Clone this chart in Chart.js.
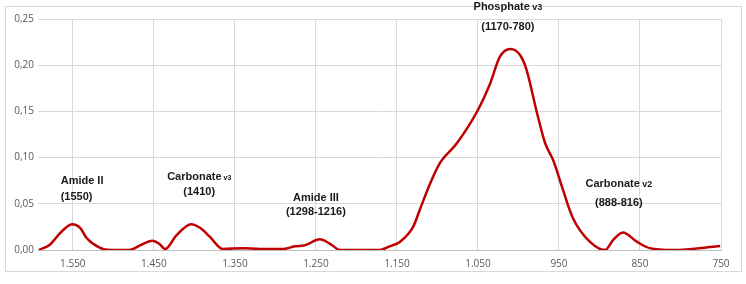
<!DOCTYPE html>
<html lang="en">
<head>
  <meta charset="UTF-8" />
  <title>FTIR spectrum</title>
  <script src="https://cdn.jsdelivr.net/npm/chart.js"></script>
  <style>
    html, body { margin: 0; padding: 0; background: #fff; }
    #wrap { width: 746px; height: 284px; }
  </style>
</head>
<body>
  <div id="wrap"><canvas id="spectrum" width="746" height="284"></canvas></div>

  <script>
    // wavenumber (cm-1) and absorbance
    const wavenumbers = [1592, 1578, 1566, 1551, 1541, 1533, 1517, 1504, 1480, 1467, 1452, 1443, 1436,
      1422, 1404, 1393, 1381, 1365, 1340, 1319, 1291, 1276, 1264, 1245, 1233, 1220, 1171, 1159, 1146,
      1130, 1122, 1109, 1097, 1076, 1050, 1035, 1023, 1010, 998, 990, 977, 967, 957, 945, 933, 912,
      893, 883, 871, 854, 838, 809, 751];
    const absorbance = [0.000, 0.006, 0.018, 0.028, 0.024, 0.013, 0.0025, 0.000, 0.000, 0.005, 0.010, 0.0065, 0.001,
      0.016, 0.028, 0.024, 0.0144, 0.001, 0.002, 0.001, 0.001, 0.004, 0.005, 0.0115, 0.007, 0.000, 0.000, 0.004, 0.009,
      0.025, 0.043, 0.072, 0.094, 0.1155, 0.1515, 0.180, 0.209, 0.2175, 0.211, 0.195, 0.148, 0.1155, 0.097, 0.065, 0.035, 0.009,
      0.000, 0.011, 0.019, 0.009, 0.002, 0.000, 0.0043];
    const xTicks = [1550, 1450, 1350, 1250, 1150, 1050, 950, 850, 750];
    const yTicks = [0, 0.05, 0.10, 0.15, 0.20, 0.25];

    // band labels: [main text, small suffix, second line]
    const bandNames = ['Amide II', 'Carbonate', 'Amide III', 'Phosphate', 'Carbonate'];
    const bandSuffix = ['', 'v3', '', 'v3', 'v2'];
    const bandRanges = ['(1550)', '(1410)', '(1298-1216)', '(1170-780)', '(888-816)'];

    // where each label sits, in data units
    const labelPos = [
      { x: 1565, y1: 0.075, y2: 0.057, align: 'left', small: 9 },
      { x: 1394, y1: 0.079, y2: 0.063, align: 'center', small: 7 },
      { x: 1250, y1: 0.056, y2: 0.041, align: 'center', small: 9 },
      { x: 1013, y1: 0.263, y2: 0.241, align: 'center', small: 9 },
      { x: 876, y1: 0.072, y2: 0.0505, align: 'center', small: 9 }
    ];

    const fmtThousands = v => {
      const s = String(Math.round(v));
      return s.length > 3 ? s.slice(0, s.length - 3) + '.' + s.slice(-3) : s;
    };

    const frame = {
      id: 'frame',
      beforeDraw(chart) {
        const c = chart.ctx;
        c.save();
        c.fillStyle = '#fff';
        c.fillRect(0, 0, chart.width, chart.height);
        c.strokeStyle = '#d9d9d9';
        c.lineWidth = 1;
        c.strokeRect(5.5, 6.5, 736, 265);
        c.restore();
      }
    };

    const bandLabels = {
      id: 'bandLabels',
      afterDatasetsDraw(chart) {
        const c = chart.ctx;
        const xs = chart.scales.x, ys = chart.scales.y;
        c.save();
        c.fillStyle = '#1a1a1a';
        c.textBaseline = 'middle';
        labelPos.forEach((p, i) => {
          const px = xs.getPixelForValue(p.x);
          const main = bandNames[i];
          const suf = bandSuffix[i];
          c.font = 'bold 11px "Liberation Sans"';
          const wMain = c.measureText(main).width;
          c.font = 'bold ' + p.small + 'px "Liberation Sans"';
          const wSuf = suf ? c.measureText(' ' + suf).width : 0;
          const total = wMain + wSuf;
          let left = p.align === 'left' ? px : px - total / 2;
          const py1 = ys.getPixelForValue(p.y1);
          c.textAlign = 'left';
          c.font = 'bold 11px "Liberation Sans"';
          c.fillText(main, left, py1);
          if (suf) {
            c.font = 'bold ' + p.small + 'px "Liberation Sans"';
            c.fillText(' ' + suf, left + wMain, py1 + 1);
          }
          c.font = 'bold 11px "Liberation Sans"';
          c.textAlign = p.align;
          c.fillText(bandRanges[i], px, ys.getPixelForValue(p.y2));
        });
        c.restore();
      }
    };

    const points = wavenumbers.map((w, i) => ({ x: w, y: absorbance[i] }));

    new Chart(document.getElementById('spectrum'), {
      type: 'line',
      data: {
        datasets: [{
          data: points,
          borderColor: '#c00000',
          borderWidth: 2.5,
          pointRadius: 0,
          fill: false,
          cubicInterpolationMode: 'monotone'
        }]
      },
      options: {
        responsive: false,
        animation: false,
        layout: { padding: { left: 0, top: 19, right: 25, bottom: 0 } },
        plugins: { legend: { display: false }, tooltip: { enabled: false } },
        scales: {
          x: {
            type: 'linear',
            reverse: true,
            min: 750,
            max: 1593,
            afterBuildTicks: s => { s.ticks = xTicks.map(v => ({ value: v })); },
            afterFit: s => { s.height = 34; },
            grid: { color: '#d9d9d9', drawTicks: false },
            border: { display: true, color: '#bfbfbf' },
            ticks: {
              color: '#595959',
              font: { family: 'Open Sans', size: 10 },
              padding: 8,
              maxRotation: 0,
              autoSkip: false,
              callback: v => fmtThousands(v)
            }
          },
          y: {
            min: 0,
            max: 0.25,
            afterBuildTicks: s => { s.ticks = yTicks.map(v => ({ value: v })); },
            afterFit: s => { s.width = 38; },
            grid: { color: '#d9d9d9', drawTicks: false },
            border: { display: false },
            ticks: {
              color: '#595959',
              font: { family: 'Open Sans', size: 10 },
              padding: 4,
              callback: v => v.toFixed(2).replace('.', ',')
            }
          }
        }
      },
      plugins: [frame, bandLabels]
    });
  </script>
</body>
</html>
